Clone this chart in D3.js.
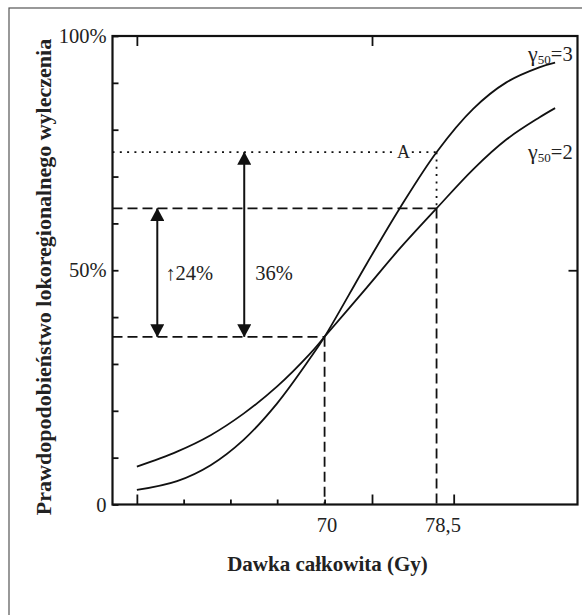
<!DOCTYPE html>
<html>
<head>
<meta charset="utf-8">
<script src="https://cdn.jsdelivr.net/npm/d3@7"></script>
<style>
body { margin: 0; background: #fff; }
svg { display: block; font-family: "Liberation Serif", "Times New Roman", serif; }
</style>
</head>
<body>
<svg id="chart" width="582" height="615"></svg>
<script>
// dose (Gy) and control probability (%)
const dose   = [55.75, 58.8, 61.35, 63.85, 66.4, 68.9, 70, 73.2, 75.7, 78.5, 81.3, 83.8, 86.3, 87.5]
const probG3 = [3.1, 5.0, 8.4, 13.8, 21.6, 31.2, 35.8, 51.4, 63.2, 75.2, 84.5, 90.1, 93.3, 94.3]
const probG2 = [8.1, 11.3, 14.8, 19.4, 25.2, 32.2, 35.8, 46.3, 54.6, 63.2, 71.6, 77.9, 82.6, 84.6]

const seriesNames = ['3', '2']

const yTicks = [0, 10, 20, 30, 40, 50, 60, 70, 80, 90, 100]
const yTickLabels = { 0: '0', 50: '50%', 100: '100%' }
const xMajorTicks = [55.75, 73.6, 79.8]
const xMinorTicks = [59.3, 62.85, 66.4, 70]
const xTopTicks = [55.75, 73.6]
const xTickLabels = [70, 78.5]

const refDose = [70, 78.5]
const refProb = [35.8, 63.2, 75.2]
const arrowDose = [57.3, 63.9]
const arrowText = ['\u219124%', '36%']

const margin = { top: 36, right: 4.5, bottom: 110.5, left: 112.5 }
const width = 582 - margin.left - margin.right
const height = 615 - margin.top - margin.bottom

const svg = d3.select('#chart')

// outer frame (runs off the page at right and bottom)
svg.append('rect')
    .attr('x', 9).attr('y', 8)
    .attr('width', 620).attr('height', 700)
    .attr('fill', 'none')
    .attr('stroke', '#555')
    .attr('stroke-width', 1.2)

const g = svg.append('g')
    .attr('transform', `translate(${margin.left},${margin.top})`)

const x = d3.scaleLinear().domain([53.9, 89.2]).range([0, width])
const y = d3.scaleLinear().domain([0, 100]).range([height, 0])

const styleAxis = (sel, w) => {
    sel.select('.domain').remove()
    sel.selectAll('.tick line').attr('stroke', '#111').attr('stroke-width', w)
    sel.selectAll('.tick text')
        .attr('fill', '#222')
        .style('font-size', '20.5px')
        .style('font-family', '"Liberation Serif", "Times New Roman", serif')
}

g.append('g')
    .call(d3.axisLeft(y).tickValues(yTicks).tickSize(-6).tickPadding(6)
        .tickFormat(d => yTickLabels[d] || ''))
    .call(styleAxis, 1.8)

g.append('g')
    .attr('transform', `translate(${width},0)`)
    .call(d3.axisRight(y).tickValues([50]).tickSize(-9).tickFormat(''))
    .call(styleAxis, 1.8)

g.append('g')
    .attr('transform', `translate(0,${height})`)
    .call(d3.axisBottom(x).tickValues(xMajorTicks).tickSize(-10).tickFormat(''))
    .call(styleAxis, 1.8)

g.append('g')
    .attr('transform', `translate(0,${height})`)
    .call(d3.axisBottom(x).tickValues(xMinorTicks).tickSize(-5).tickFormat(''))
    .call(styleAxis, 1.8)

g.append('g')
    .attr('transform', `translate(0,${height})`)
    .call(d3.axisBottom(x).tickValues(xTickLabels).tickSize(0).tickPadding(13)
        .tickFormat(d => String(d).replace('.', ',')))
    .call(styleAxis, 0)
    .selectAll('.tick text')
    .attr('dx', (d, i) => i == 1 ? 6 : 2)

g.append('g')
    .call(d3.axisTop(x).tickValues(xTopTicks).tickSize(-10).tickFormat(''))
    .call(styleAxis, 1.8)

// reference lines
const dashed = '10,5'
const dotted = '2,5.3'

const refLines = [
    { x1: x.domain()[0], y1: refProb[0], x2: refDose[0], y2: refProb[0], dash: dashed },
    { x1: refDose[0], y1: refProb[0], x2: refDose[0], y2: 0, dash: dashed },
    { x1: x.domain()[0], y1: refProb[1], x2: refDose[1], y2: refProb[1], dash: dashed },
    { x1: refDose[1], y1: refProb[1], x2: refDose[1], y2: 0, dash: dashed },
    { x1: x.domain()[0], y1: refProb[2], x2: refDose[1], y2: refProb[2], dash: dotted },
    { x1: refDose[1], y1: refProb[2], x2: refDose[1], y2: refProb[1], dash: dotted }
]

g.selectAll('.ref')
    .data(refLines)
    .enter().append('line')
    .attr('class', 'ref')
    .attr('x1', d => x(d.x1)).attr('y1', d => y(d.y1))
    .attr('x2', d => x(d.x2)).attr('y2', d => y(d.y2))
    .attr('stroke', '#111')
    .attr('stroke-width', 1.8)
    .attr('stroke-dasharray', d => d.dash)

// curves
const line = d3.line()
    .x((d, i) => x(dose[i]))
    .y(d => y(d))
    .curve(d3.curveCatmullRom.alpha(0.5))

g.selectAll('.curve')
    .data([probG3, probG2])
    .enter().append('path')
    .attr('class', 'curve')
    .attr('d', d => line(d))
    .attr('fill', 'none')
    .attr('stroke', '#111')
    .attr('stroke-width', 1.8)

// arrows
svg.append('defs').append('marker')
    .attr('id', 'head')
    .attr('viewBox', '0 0 13 14')
    .attr('markerUnits', 'userSpaceOnUse')
    .attr('markerWidth', 13).attr('markerHeight', 14)
    .attr('refX', 12.5).attr('refY', 7)
    .attr('orient', 'auto-start-reverse')
  .append('path')
    .attr('d', 'M0,0L13,7L0,14Z')
    .attr('fill', '#111')

const arrows = [
    { dose: arrowDose[0], from: refProb[0], to: refProb[1], text: arrowText[0], dx: 8 },
    { dose: arrowDose[1], from: refProb[0], to: refProb[2], text: arrowText[1], dx: 11 }
]

g.selectAll('.arrow')
    .data(arrows)
    .enter().append('line')
    .attr('class', 'arrow')
    .attr('x1', d => x(d.dose)).attr('y1', d => y(d.from))
    .attr('x2', d => x(d.dose)).attr('y2', d => y(d.to))
    .attr('stroke', '#111')
    .attr('stroke-width', 2)
    .attr('marker-start', 'url(#head)')
    .attr('marker-end', 'url(#head)')

g.selectAll('.arrow-label')
    .data(arrows)
    .enter().append('text')
    .attr('class', 'arrow-label')
    .attr('x', d => x(d.dose) + d.dx)
    .attr('y', y(47.9))
    .attr('fill', '#222')
    .style('font-size', '20.5px')
    .text(d => d.text)

// point A
g.append('text')
    .attr('x', x(refDose[1]) - 33)
    .attr('y', y(refProb[2]) + 6)
    .attr('text-anchor', 'middle')
    .attr('fill', '#222')
    .attr('stroke', '#fff')
    .attr('stroke-width', 8)
    .attr('paint-order', 'stroke')
    .style('font-size', '18px')
    .text('A')

// gamma labels
const gammaLabels = g.selectAll('.gamma')
    .data(seriesNames)
    .enter().append('text')
    .attr('class', 'gamma')
    .attr('x', x(85.45))
    .attr('y', (d, i) => y(i == 0 ? 94.6 : 73.8))
    .attr('fill', '#222')
    .style('font-size', '20.5px')

gammaLabels.append('tspan').style('font-size', '22px').text('\u03b3')
gammaLabels.append('tspan').attr('dy', 3).style('font-size', '13px').text('50')
gammaLabels.append('tspan').attr('dy', -3).text(d => '=' + d)

// frame
g.append('rect')
    .attr('width', width).attr('height', height)
    .attr('fill', 'none')
    .attr('stroke', '#111')
    .attr('stroke-width', 2.2)

// axis titles
svg.append('text')
    .attr('x', 327.5).attr('y', 571)
    .attr('text-anchor', 'middle')
    .attr('fill', '#222')
    .style('font-size', '21px')
    .style('font-weight', 'bold')
    .text('Dawka całkowita (Gy)')

svg.append('text')
    .attr('transform', 'translate(51,277) rotate(-90)')
    .attr('text-anchor', 'middle')
    .attr('fill', '#222')
    .style('font-size', '22px')
    .style('font-weight', 'bold')
    .text('Prawdopodobieństwo lokoregionalnego wyleczenia')
</script>
</body>
</html>
